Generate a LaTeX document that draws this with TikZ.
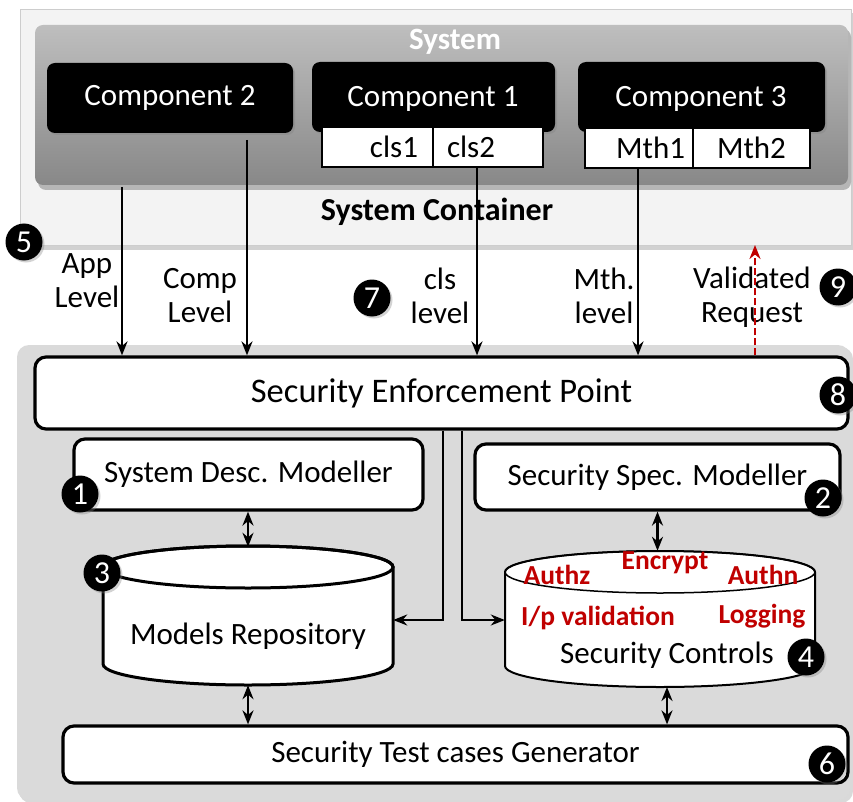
\documentclass[tikz,border=0pt]{standalone}
\usepackage{fontspec}
\setmainfont{Carlito}
\usetikzlibrary{arrows.meta,shadows,calc}
\definecolor{panel}{RGB}{218,218,218}
\definecolor{contfill}{RGB}{243,243,243}
\definecolor{contedge}{RGB}{205,205,205}
\definecolor{sysTop}{RGB}{190,190,190}
\definecolor{sysBot}{RGB}{136,136,136}
\definecolor{dred}{RGB}{192,0,0}
\tikzset{
  compbox/.style={fill=black, text=white, rounded corners=8pt, inner sep=0pt,
    drop shadow={shadow xshift=2pt, shadow yshift=-2pt, opacity=.35}},
  cellbox/.style={draw=black, line width=2pt, fill=white, inner ysep=0pt, minimum height=40pt},
  wbox/.style={draw=black, line width=3.2pt, fill=white, rounded corners=11pt, inner sep=0pt},
  badge/.style={circle, fill=black, text=white, minimum size=37pt, inner sep=0pt,
    font=\fontsize{32}{32}\selectfont,
    drop shadow={shadow xshift=2pt, shadow yshift=-2pt, opacity=.35}},
  arr/.style={line width=2.8pt, -{Stealth[length=14pt,width=11pt]}},
  darr/.style={line width=2.8pt, {Stealth[length=14pt,width=11pt]}-{Stealth[length=14pt,width=11pt]}},
  lvl/.style={align=center, font=\fontsize{31}{34}\selectfont},
  redtxt/.style={text=dred, font=\fontsize{27.5}{27.5}\selectfont\bfseries},
  cyl/.style={draw=black, line width=3pt, fill=white},
}
\begin{document}
\begin{tikzpicture}[x=1pt,y=-1pt, font=\fontsize{31}{36}\selectfont]
\useasboundingbox (0,0) rectangle (853,802);

% outer system container
\fill[black, opacity=.18] (20,13) rectangle (853,250);
\draw[contedge, fill=contfill, line width=1pt] (20,10) rectangle (851,245);
% system box
\fill[black, opacity=.25, rounded corners=8pt] (38,29) rectangle (851,190);
\shade[top color=sysTop, bottom color=sysBot, rounded corners=8pt] (35,25) rectangle (848,185);
\node[text=white, font=\fontsize{31}{31}\selectfont\bfseries] (systitle) at (455,42) {System};
\node[font=\fontsize{32}{32}\selectfont\bfseries] (contlabel) at (437,212) {System Container};

% components
\node[compbox, minimum width=246pt, minimum height=70pt] (comp2) at (170,98) {Component 2};
\node[compbox, minimum width=243pt, minimum height=70pt] (comp1) at (433.5,97) {};
\node[text=white] (comp1t) at (433,99) {Component 1};
\node[compbox, minimum width=247pt, minimum height=70pt] (comp3) at (701.5,97) {};
\node[text=white] (comp3t) at (701,99) {Component 3};

\node[cellbox, text width=81pt, inner xsep=15pt, align=right] (cls1) at (377.5,147) {cls1};
\node[cellbox, text width=82pt, inner xsep=14pt, align=left] (cls2) at (488,147) {cls2};
\node[cellbox, text width=92pt, inner xsep=8pt, align=right] (mth1) at (639,148) {Mth1};
\node[cellbox, text width=101pt, inner xsep=8pt, align=center] (mth2) at (751.5,148) {Mth2};

% lower panel
\fill[black, opacity=.15, rounded corners=12pt] (19,347) rectangle (853,803);
\fill[panel, rounded corners=12pt] (17,345) rectangle (850,800);

% main boxes
\node[wbox, minimum width=813pt, minimum height=72pt, font=\fontsize{34.5}{34.5}\selectfont] (sep) at (441.5,393) {Security Enforcement Point};
\node[wbox, minimum width=349pt, minimum height=71pt] (sdm) at (248.5,474.5) {System Desc. Modeller};
\node[wbox, minimum width=365pt, minimum height=66pt] (ssm) at (657.5,477) {Security Spec. Modeller};
\node[wbox, minimum width=785pt, minimum height=57pt] (stg) at (455.5,754.5) {Security Test cases Generator};

% cylinders
\path[cyl] (103,567) -- (103,664) arc[start angle=180, end angle=360, x radius=145pt, y radius=21pt]
  -- (393,567) arc[start angle=0, end angle=180, x radius=145pt, y radius=21pt] -- cycle;
\draw[line width=3pt] (248,567) ellipse[x radius=145pt, y radius=21pt];
\node[minimum width=290pt, minimum height=138pt, inner sep=0pt] (models) at (248,616) {};
\node (modelst) at (248,636) {Models Repository};

\path[cyl, line width=2pt] (505,572) -- (505,666) arc[start angle=180, end angle=360, x radius=155pt, y radius=21pt]
  -- (815,572) arc[start angle=0, end angle=180, x radius=155pt, y radius=21pt] -- cycle;
\draw[line width=1.5pt] (660,572) ellipse[x radius=155pt, y radius=21pt];
\node[minimum width=310pt, minimum height=136pt, inner sep=0pt] (seccon) at (660,619) {};
\node (seccont) at (667,655) {Security Controls};
\node[redtxt] (authz) at (557,575) {Authz};
\node[redtxt] (encrypt) at (665,563) {Encrypt};
\node[redtxt] (authn) at (763,575) {Authn};
\node[redtxt] (ipval) at (598,618) {I/p validation};
\node[redtxt] (logging) at (762,616) {Logging};

% level labels
\node[lvl] (applbl) at (87,281) {App\\Level};
\node[lvl] (complbl) at (200,296) {Comp\\Level};
\node[lvl] (clslbl) at (440,296) {cls\\level};
\node[lvl] (mthlbl) at (604,296) {Mth.\\level};
\node[lvl] (vrlbl) at (752,297) {Validated\\Request};

% connectors from system
\coordinate (appsrc) at (122,187);
\coordinate (compsrc) at (247,140);
\coordinate (clssrc) at (477,167);
\coordinate (mthsrc) at (638,168);
\coordinate (vrdst) at (755,245);
\draw[arr] (appsrc) -- (appsrc |- sep.north);
\draw[arr] (compsrc) -- (compsrc |- sep.north);
\draw[arr] (clssrc) -- (clssrc |- sep.north);
\draw[arr] (mthsrc) -- (mthsrc |- sep.north);
\draw[arr, dred, dash pattern=on 7pt off 3pt] (vrdst |- sep.north) -- (vrdst);

% SEP to repositories
\coordinate (jl) at (443,620);
\coordinate (jr) at (462,620);
\draw[arr] (jl |- sep.south) -- (jl) -- (jl -| models.east);
\draw[arr] (jr |- sep.south) -- (jr) -- (jr -| seccon.west);

% double arrows
\draw[darr] (sdm.south -| models.north) -- (models.north);
\draw[darr] (ssm.south) -- (ssm.south |- seccon.north);
\draw[darr] (models.south) -- (models.south |- stg.north);
\coordinate (scb) at (667,687);
\draw[darr] (scb) -- (scb |- stg.north);

% badges
\node[badge] (b5) at (24,242) {5};
\node[badge] (b7) at (372,298) {7};
\node[badge] (b9) at (838,287) {9};
\node[badge] (b8) at (838,395) {8};
\node[badge] (b1) at (80,494) {1};
\node[badge] (b2) at (823,498) {2};
\node[badge] (b3) at (102,573) {3};
\node[badge] (b4) at (806,657) {4};
\node[badge] (b6) at (827,764) {6};
\end{tikzpicture}
\end{document}
